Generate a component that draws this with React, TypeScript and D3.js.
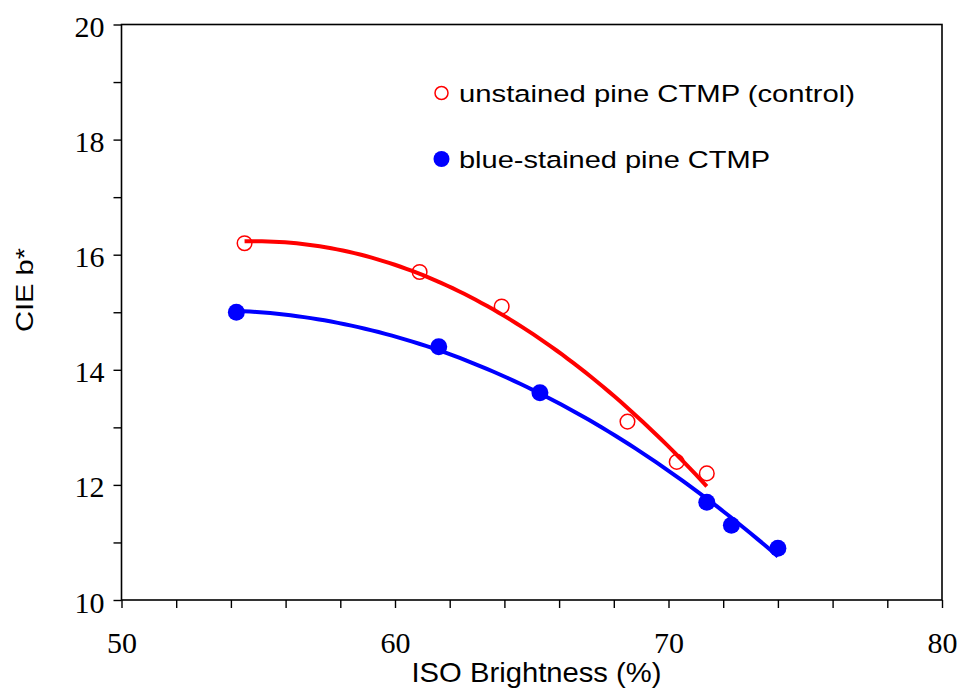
import React, { useEffect, useRef } from "react";
import * as d3 from "d3";

const width = 961;
const height = 689;
const margin = { top: 24.5, right: 19, bottom: 89, left: 121.5 };

// unstained pine CTMP (control) - open red circles
const unstainedX = [54.5, 60.9, 63.9, 68.5, 70.3, 71.4];
const unstainedY = [16.2, 15.7, 15.1, 13.1, 12.4, 12.2];
// blue-stained pine CTMP - filled blue circles
const stainedX = [54.2, 61.6, 65.3, 71.4, 72.3, 74.0];
const stainedY = [15.0, 14.4, 13.6, 11.7, 11.3, 10.9];

const xTickValues = d3.range(50, 81, 2);
const xLabels = [50, 60, 70, 80];
const yTickValues = d3.range(10, 21, 1);
const yLabels = [10, 12, 14, 16, 18, 20];

const legendLabels = ["unstained pine CTMP (control)", "blue-stained pine CTMP"];

const serif = "'Times New Roman', 'Liberation Serif', serif";
const sans = "Arial, 'Liberation Sans', sans-serif";

// least squares 2nd order polynomial (same as the regression line in the original plot)
function quadFit(xs: number[], ys: number[]) {
  const m = d3.mean(xs) as number;
  const s = [0, 0, 0, 0, 0];
  const t = [0, 0, 0];
  xs.forEach((x, i) => {
    const u = x - m;
    for (let k = 0; k < 5; k++) s[k] += Math.pow(u, k);
    for (let k = 0; k < 3; k++) t[k] += ys[i] * Math.pow(u, k);
  });
  const A = [
    [s[0], s[1], s[2]],
    [s[1], s[2], s[3]],
    [s[2], s[3], s[4]],
  ];
  const det = (M: number[][]) =>
    M[0][0] * (M[1][1] * M[2][2] - M[1][2] * M[2][1]) -
    M[0][1] * (M[1][0] * M[2][2] - M[1][2] * M[2][0]) +
    M[0][2] * (M[1][0] * M[2][1] - M[1][1] * M[2][0]);
  const D = det(A);
  const coef = [0, 1, 2].map((c) => {
    const Mc = A.map((row, r) => row.map((v, j) => (j === c ? t[r] : v)));
    return det(Mc) / D;
  });
  return (x: number) => coef[0] + coef[1] * (x - m) + coef[2] * (x - m) * (x - m);
}

export default function App() {
  const ref = useRef<SVGSVGElement>(null);

  useEffect(() => {
    const svg = d3.select(ref.current);
    svg.selectAll("*").remove();

    const xScale = d3.scaleLinear().domain([50, 80]).range([margin.left, width - margin.right]);
    const yScale = d3.scaleLinear().domain([10, 20]).range([height - margin.bottom, margin.top]);

    // ------- axes --------//
    const xAxis = d3
      .axisBottom(xScale)
      .tickValues(xTickValues)
      .tickSize(8)
      .tickSizeOuter(0)
      .tickPadding(24)
      .tickFormat((d) => (xLabels.includes(+d) ? String(d) : ""));

    const yAxis = d3
      .axisLeft(yScale)
      .tickValues(yTickValues)
      .tickSize(8)
      .tickSizeOuter(0)
      .tickPadding(9)
      .tickFormat((d) => (yLabels.includes(+d) ? String(d) : ""));

    const gx = svg.append("g").attr("transform", `translate(0,${height - margin.bottom})`).call(xAxis);
    const gy = svg.append("g").attr("transform", `translate(${margin.left},0)`).call(yAxis);

    [gx, gy].forEach((g) => {
      g.selectAll("line").attr("stroke", "#000").attr("stroke-width", 1.4);
      g.select(".domain").remove();
      g.selectAll("text").attr("fill", "#000").style("font-family", serif).style("font-size", "30px");
    });
    gy.selectAll("text").attr("dy", "0.4em");

    // frame
    svg
      .append("rect")
      .attr("x", margin.left)
      .attr("y", margin.top)
      .attr("width", width - margin.right - margin.left)
      .attr("height", height - margin.bottom - margin.top)
      .attr("fill", "none")
      .attr("stroke", "#000")
      .attr("stroke-width", 1.6);

    // axis titles
    svg
      .append("text")
      .attr("x", 536.5)
      .attr("y", 682)
      .attr("text-anchor", "middle")
      .attr("textLength", 250)
      .attr("lengthAdjust", "spacingAndGlyphs")
      .style("font-family", sans)
      .style("font-size", "28px")
      .text("ISO Brightness (%)");

    svg
      .append("text")
      .attr("transform", `translate(33,290) rotate(-90)`)
      .attr("text-anchor", "middle")
      .attr("textLength", 84)
      .attr("lengthAdjust", "spacingAndGlyphs")
      .style("font-family", sans)
      .style("font-size", "24px")
      .text("CIE b*");

    // ------- fitted curves --------//
    const line = d3.line<number>().x((d) => xScale(d));

    const series = [
      { xs: stainedX, ys: stainedY, color: "#0000ff", filled: true },
      { xs: unstainedX, ys: unstainedY, color: "#ff0000", filled: false },
    ];

    series.forEach((s) => {
      const f = quadFit(s.xs, s.ys);
      const [x0, x1] = d3.extent(s.xs) as [number, number];
      const pts = d3.range(0, 81).map((i) => x0 + ((x1 - x0) * i) / 80);
      svg
        .append("path")
        .attr("d", line.y((d) => yScale(f(d)))(pts))
        .attr("fill", "none")
        .attr("stroke", s.color)
        .attr("stroke-width", 4);
    });

    series.forEach((s) => {
      svg
        .append("g")
        .selectAll("circle")
        .data(s.xs)
        .join("circle")
        .attr("cx", (d) => xScale(d))
        .attr("cy", (d, i) => yScale(s.ys[i]))
        .attr("r", s.filled ? 8.5 : 7.3)
        .attr("fill", s.filled ? s.color : "none")
        .attr("stroke", s.filled ? "none" : s.color)
        .attr("stroke-width", 1.5);
    });

    // ------- legend --------//
    const legend = svg.append("g");
    const legendY = [93, 159];
    legend
      .append("circle")
      .attr("cx", 441.5)
      .attr("cy", legendY[0])
      .attr("r", 6.5)
      .attr("fill", "none")
      .attr("stroke", "#ff0000")
      .attr("stroke-width", 1.5);
    legend.append("circle").attr("cx", 441.5).attr("cy", legendY[1]).attr("r", 8).attr("fill", "#0000ff");

    const legendWidths = [396, 311];
    legend
      .selectAll("text")
      .data(legendLabels)
      .join("text")
      .attr("x", 459)
      .attr("y", (d, i) => legendY[i] + 8.7)
      .attr("textLength", (d, i) => legendWidths[i])
      .attr("lengthAdjust", "spacingAndGlyphs")
      .style("font-family", sans)
      .style("font-size", "24.5px")
      .text((d) => d);
  }, []);

  return (
    <svg
      ref={ref}
      width={width}
      height={height}
      style={{ position: "absolute", left: 0, top: 0, background: "#fff" }}
    />
  );
}
